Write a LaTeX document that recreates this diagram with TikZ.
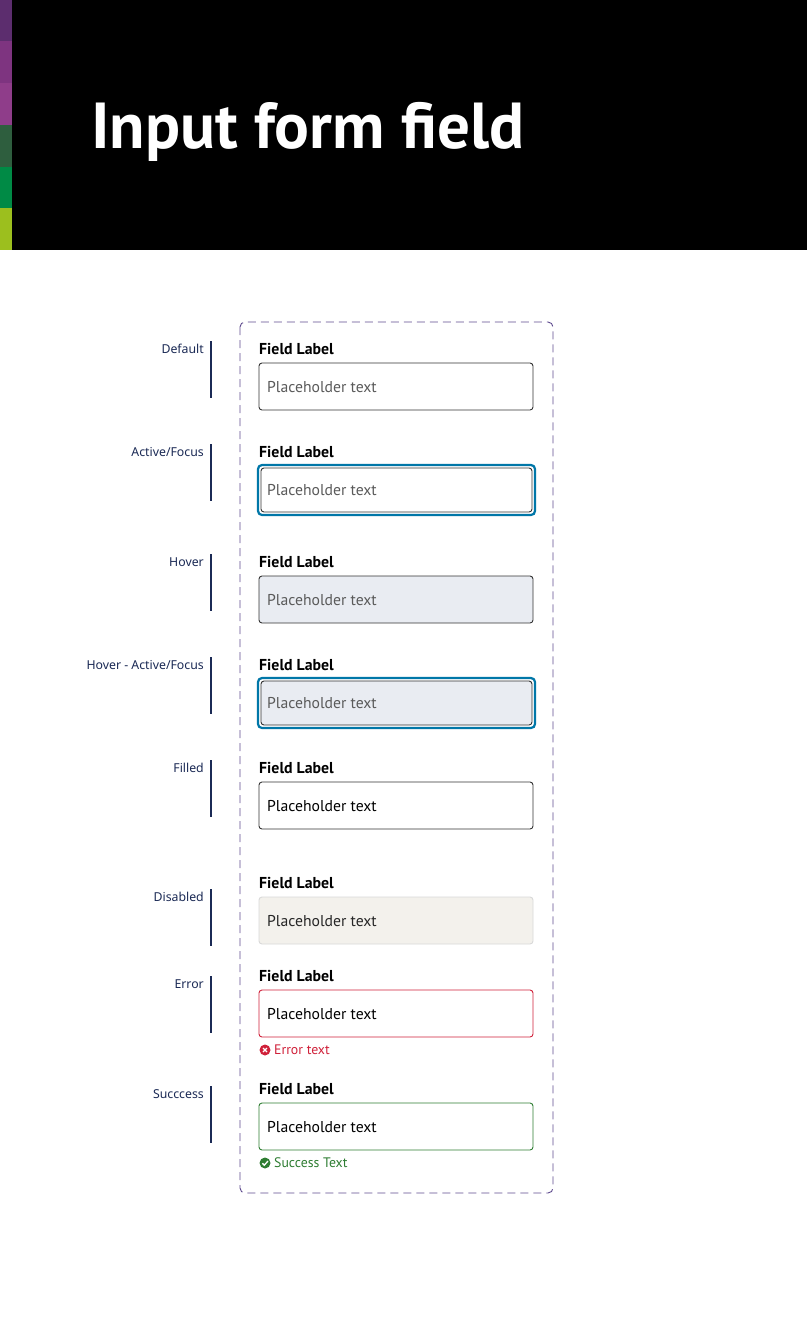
\documentclass[tikz,border=0pt]{standalone}
\usepackage{fontspec}
\setmainfont{PT Sans}
\newfontfamily\lblfont{Noto Sans}
\begin{document}
\begin{tikzpicture}[x=1pt,y=-1pt,
  fieldlabel/.style={anchor=west,font=\bfseries\fontsize{15.8}{15.8}\selectfont,text=black,inner sep=0},
  box/.style={draw=#1,rounded corners=3,line width=0.9},
  ph/.style={anchor=west,font=\fontsize{15.7}{15.7}\selectfont,inner sep=0},
  side/.style={anchor=east,font=\lblfont\fontsize{12.3}{12.3}\selectfont,text=navy,inner sep=0},
  sline/.style={draw=navy,line width=1.2}]
\definecolor{navy}{HTML}{1B2A55}
\definecolor{c1}{HTML}{5C2D6E}\definecolor{c2}{HTML}{7E3480}\definecolor{c3}{HTML}{8F3D8A}
\definecolor{c4}{HTML}{2E5E3E}\definecolor{c5}{HTML}{008A45}\definecolor{c6}{HTML}{9CBF1E}
\definecolor{focus}{HTML}{0077A8}\definecolor{hov}{HTML}{E9ECF2}\definecolor{dis}{HTML}{F3F1EC}
\definecolor{err}{HTML}{D0213A}\definecolor{ok}{HTML}{2E7D32}\definecolor{dashcol}{HTML}{5E4A8E}
\definecolor{grey}{HTML}{5A5A5A}\definecolor{bord}{HTML}{333333}
\useasboundingbox (0,0) rectangle (807,1323);
\fill[white] (0,0) rectangle (807,1323);
\fill[black] (0,0) rectangle (807,250);
\fill[c1] (0,0) rectangle (12,41);\fill[c2] (0,41) rectangle (12,83);\fill[c3] (0,83) rectangle (12,125);
\fill[c4] (0,125) rectangle (12,167);\fill[c5] (0,167) rectangle (12,208);\fill[c6] (0,208) rectangle (12,250);
\node[anchor=west,inner sep=0,text=white,font=\bfseries\fontsize{65}{65}\selectfont] (title) at (91,132) {Input form field};
\draw[dashcol,dash pattern=on 8 off 5,rounded corners=5,line width=0.9] (240,322) rectangle (553,1193);
% Default
\node[side] (s1) at (204,349) {Default}; \draw[sline] (211,341) -- (211,398);
\node[fieldlabel] (l1) at (259,349) {Field Label};
\draw[box=bord,fill=white] (259,363) rectangle (533,410);
\node[ph,text=grey] (p1) at (267,387) {Placeholder text};
% Active
\node[side] (s2) at (204,452) {Active/Focus}; \draw[sline] (211,444) -- (211,501);
\node[fieldlabel] (l2) at (259,452) {Field Label};
\draw[focus,line width=2.2,rounded corners=4] (258,465) rectangle (535,515);
\draw[box=bord,fill=white] (261,468) rectangle (532,512);
\node[ph,text=grey] (p2) at (267,490) {Placeholder text};
% Hover
\node[side] (s3) at (204,562) {Hover}; \draw[sline] (211,554) -- (211,611);
\node[fieldlabel] (l3) at (259,562) {Field Label};
\draw[box=bord,fill=hov] (259,576) rectangle (533,623);
\node[ph,text=grey] (p3) at (267,600) {Placeholder text};
% Hover active
\node[side] (s4) at (204,665) {Hover - Active/Focus}; \draw[sline] (211,657) -- (211,714);
\node[fieldlabel] (l4) at (259,665) {Field Label};
\draw[focus,line width=2.2,rounded corners=4] (258,678) rectangle (535,728);
\draw[box=bord,fill=hov] (261,681) rectangle (532,725);
\node[ph,text=grey] (p4) at (267,703) {Placeholder text};
% Filled
\node[side] (s5) at (204,768) {Filled}; \draw[sline] (211,760) -- (211,817);
\node[fieldlabel] (l5) at (259,768) {Field Label};
\draw[box=bord,fill=white] (259,782) rectangle (533,829);
\node[ph,text=black] (p5) at (267,806) {Placeholder text};
% Disabled
\node[side] (s6) at (204,897) {Disabled}; \draw[sline] (211,889) -- (211,946);
\node[fieldlabel] (l6) at (259,883) {Field Label};
\draw[box=black!15,fill=dis] (259,897) rectangle (533,944);
\node[ph,text=black!85] (p6) at (267,921) {Placeholder text};
% Error
\node[side] (s7) at (204,984) {Error}; \draw[sline] (211,976) -- (211,1033);
\node[fieldlabel] (l7) at (259,976) {Field Label};
\draw[box=err,fill=white] (259,990) rectangle (533,1037);
\node[ph,text=black] (p7) at (267,1014) {Placeholder text};
\fill[err] (265,1050) circle (5.5);
\draw[white,line width=1.1] (263,1048) -- (267,1052) (263,1052) -- (267,1048);
\node[anchor=west,inner sep=0,text=err,font=\fontsize{13.8}{13.8}\selectfont] (et) at (274,1050) {Error text};
% Success
\node[side] (s8) at (204,1094) {Succcess}; \draw[sline] (211,1086) -- (211,1143);
\node[fieldlabel] (l8) at (259,1089) {Field Label};
\draw[box=ok,fill=white] (259,1103) rectangle (533,1150);
\node[ph,text=black] (p8) at (267,1127) {Placeholder text};
\fill[ok] (265,1163) circle (5.5);
\draw[white,line width=1.3] (262.3,1163.2) -- (264.3,1165.2) -- (268,1161);
\node[anchor=west,inner sep=0,text=ok,font=\fontsize{13.8}{13.8}\selectfont] (st) at (274,1163) {Success Text};
\end{tikzpicture}
\end{document}
